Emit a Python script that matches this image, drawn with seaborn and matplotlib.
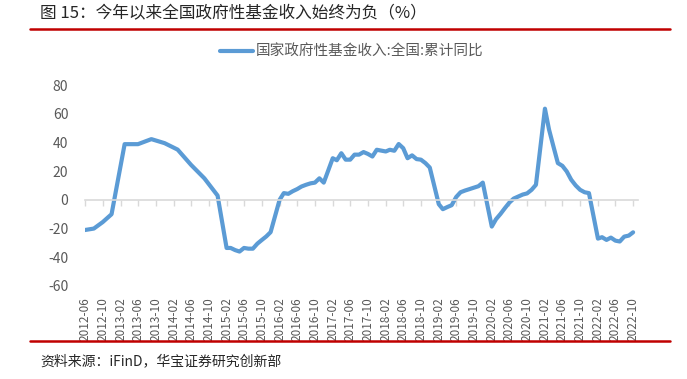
import pandas as pd
import matplotlib.pyplot as plt
import seaborn as sns
from matplotlib.lines import Line2D

# ─────────────────────────────────────────────
# DATA (%)
# ─────────────────────────────────────────────
months = [
    '2012-06', '2012-08', '2012-10', '2012-12',
    '2013-03', '2013-06', '2013-09', '2013-12',
    '2014-03', '2014-06', '2014-09', '2014-12',
    '2015-02', '2015-03', '2015-04', '2015-05', '2015-06', '2015-07', '2015-08', '2015-09', '2015-10', '2015-11', '2015-12',
    '2016-02', '2016-03', '2016-04', '2016-05', '2016-06', '2016-07', '2016-08', '2016-09', '2016-10', '2016-11', '2016-12',
    '2017-02', '2017-03', '2017-04', '2017-05', '2017-06', '2017-07', '2017-08', '2017-09', '2017-10', '2017-11', '2017-12',
    '2018-02', '2018-03', '2018-04', '2018-05', '2018-06', '2018-07', '2018-08', '2018-09', '2018-10', '2018-11', '2018-12',
    '2019-02', '2019-03', '2019-04', '2019-05', '2019-06', '2019-07', '2019-08', '2019-09', '2019-10', '2019-11', '2019-12',
    '2020-02', '2020-03', '2020-04', '2020-05', '2020-06', '2020-07', '2020-08', '2020-09', '2020-10', '2020-11', '2020-12',
    '2021-02', '2021-03', '2021-04', '2021-05', '2021-06', '2021-07', '2021-08', '2021-09', '2021-10', '2021-11', '2021-12',
    '2022-02', '2022-03', '2022-04', '2022-05', '2022-06', '2022-07', '2022-08', '2022-09', '2022-10',
]
revenue_yoy = [
    -21.0, -20.0, -15.5, -10.0,
    38.8, 38.8, 42.3, 39.5,
    35.0, 24.4, 15.0, 3.0,
    -33.5, -33.5, -35.0, -36.0, -33.5, -34.0, -34.0, -30.5, -28.0, -25.5, -22.5,
    0.0, 4.7, 4.2, 6.0, 7.5, 9.3, 10.5, 11.5, 12.0, 15.0, 12.0,
    29.0, 27.6, 32.5, 28.0, 28.0, 31.5, 31.5, 33.3, 32.0, 30.2, 34.9,
    33.7, 34.9, 34.2, 38.9, 36.0, 29.0, 31.0, 28.4, 28.0, 25.6, 22.5,
    -3.0, -6.5, -5.0, -3.7, 2.0, 5.3, 6.5, 7.5, 8.5, 9.5, 12.0,
    -18.6, -13.5, -9.8, -5.8, -1.9, 0.9, 2.3, 3.7, 4.5, 7.0, 10.5,
    63.5, 49.0, 37.0, 25.6, 23.7, 19.8, 14.0, 10.0, 7.0, 5.3, 4.7,
    -27.0, -26.0, -27.9, -26.3, -28.4, -29.0, -25.6, -24.9, -22.6,
]

tick_labels = [
    '2012-06', '2012-10', '2013-02', '2013-06', '2013-10', '2014-02', '2014-06', '2014-10',
    '2015-02', '2015-06', '2015-10', '2016-02', '2016-06', '2016-10', '2017-02', '2017-06',
    '2017-10', '2018-02', '2018-06', '2018-10', '2019-02', '2019-06', '2019-10', '2020-02',
    '2020-06', '2020-10', '2021-02', '2021-06', '2021-10', '2022-02', '2022-06', '2022-10',
]
y_ticks = [-60, -40, -20, 0, 20, 40, 60, 80]

title_text = '图 15：今年以来全国政府性基金收入始终为负（%）'
legend_text = '国家政府性基金收入:全国:累计同比'
source_text = '资料来源：iFinD，华宝证券研究创新部'

# ─────────────────────────────────────────────
# STYLE
# ─────────────────────────────────────────────
sns.set_theme(style='white')
plt.rcParams['font.family'] = ['Noto Sans CJK SC', 'DejaVu Sans']
plt.rcParams['axes.unicode_minus'] = False

line_color = '#5B9BD5'
text_gray = '#595959'
axis_gray = '#D9D9D9'
red = '#C00000'

df = pd.DataFrame({'month': pd.to_datetime(months), 'yoy': revenue_yoy})

# ─────────────────────────────────────────────
# PLOT
# ─────────────────────────────────────────────
fig = plt.figure(figsize=(6.87, 3.79), dpi=100)
ax = fig.add_axes([0.1237, 0.2454, 0.8044, 0.5303])

sns.lineplot(data=df, x='month', y='yoy', color=line_color, linewidth=3.0,
             label=legend_text, ax=ax)

tick_dates = pd.to_datetime(tick_labels)
ax.set_xlim(tick_dates[0], tick_dates[-1] + pd.DateOffset(months=1))
ax.set_xticks(tick_dates)
ax.set_xticklabels(tick_labels)

ax.set_ylim(y_ticks[0], y_ticks[-1])
ax.set_yticks(y_ticks)
ax.set_yticklabels([str(v) for v in y_ticks])

ax.set_xlabel('')
ax.set_ylabel('')
ax.grid(False)

for side in ['top', 'right', 'left']:
    ax.spines[side].set_visible(False)
ax.spines['bottom'].set_position(('data', 0))
ax.spines['bottom'].set_color(axis_gray)
ax.spines['bottom'].set_linewidth(1.2)

ax.tick_params(axis='x', bottom=True, direction='out', length=4, width=1, color=axis_gray,
               pad=66, labelrotation=90, labelsize=8.5, labelcolor=text_gray)
ax.tick_params(axis='y', left=False, length=0, pad=12, labelsize=10, labelcolor=text_gray)

ax.legend(loc='center', bbox_to_anchor=(0.512, 0.863), bbox_transform=fig.transFigure,
          frameon=False, fontsize=10.5, handlelength=2.3, handletextpad=0.2,
          labelcolor=text_gray)

# header / footer
fig.text(40 / 687, 1 - 14 / 379, title_text, fontsize=12, ha='left', va='center', color='#262626')
fig.add_artist(Line2D([0.044, 0.975], [0.9235, 0.9235], transform=fig.transFigure, color=red, lw=1.8))
fig.add_artist(Line2D([0.044, 0.975], [0.1003, 0.1003], transform=fig.transFigure, color=red, lw=1.8))
fig.text(40 / 687, 1 - 361 / 379, source_text, fontsize=10, ha='left', va='center', color='#262626')

fig.savefig('out.png', dpi=100)
print('saved out.png')
